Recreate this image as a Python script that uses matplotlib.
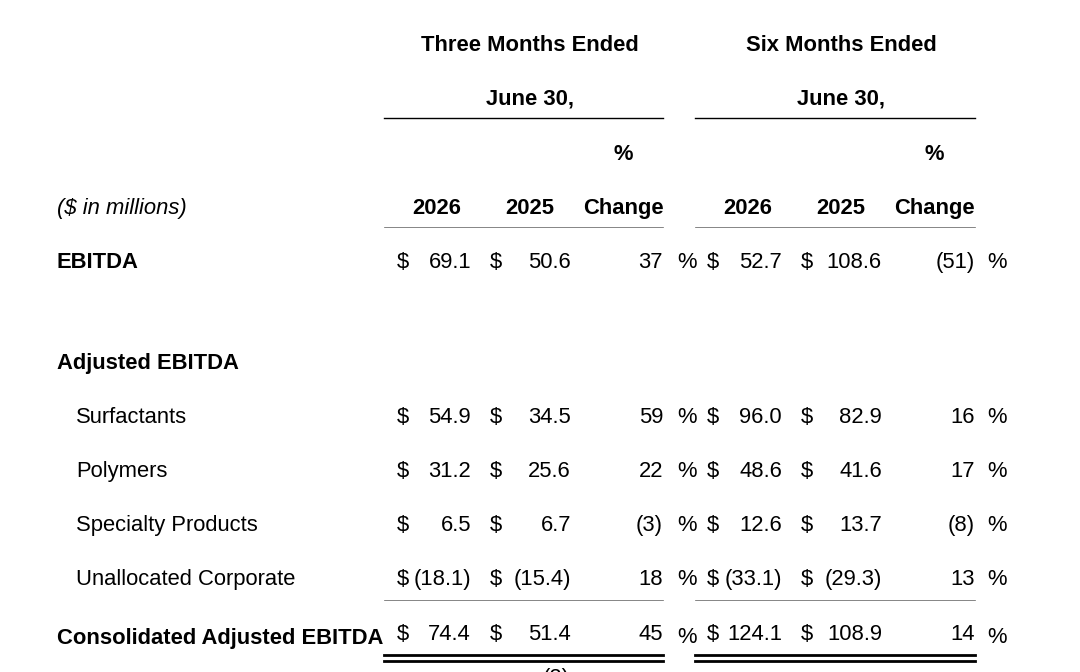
import matplotlib
matplotlib.use("Agg")
import matplotlib.pyplot as plt

plt.rcParams['font.family'] = ['Liberation Sans', 'DejaVu Sans']

# Values ($ in millions)
segments = ["Surfactants", "Polymers", "Specialty Products", "Unallocated Corporate"]
q_2026 = [54.9, 31.2, 6.5, -18.1]
q_2025 = [34.5, 25.6, 6.7, -15.4]
q_change = [59, 22, -3, 18]
h_2026 = [96.0, 48.6, 12.6, -33.1]
h_2025 = [82.9, 41.6, 13.7, -29.3]
h_change = [16, 17, -8, 13]

ebitda = [69.1, 50.6, 37, 52.7, 108.6, -51]
consolidated = [74.4, 51.4, 45, 124.1, 108.9, 14]

periods = ["Three Months Ended", "Six Months Ended"]
period_date = "June 30,"
years = ["2026", "2025"]

FS = 15.8


def money(v):
    return f"({abs(v):.1f})" if v < 0 else f"{v:.1f}"


def pct(v):
    return f"({abs(v)})" if v < 0 else f"{v}"


fig = plt.figure(figsize=(10.8, 6.72), dpi=100)
ax = fig.add_axes([0, 0, 1, 1])
ax.set_xlim(0, 1080)
ax.set_ylim(672, 0)
ax.axis("off")

# column layout (pixels)
dollar_x = [397, 490, 707, 801]
value_right = [471, 571, 782, 882]
change_right = [663, 975]
pct_x = [677, 987]
head_center = [[437, 530, 623], [748, 841, 934]]
group_center = [530, 841]
group_span = [(384, 663), (695, 975)]


def draw_row(y, vals, pct_dy=0):
    q = vals[:3]
    h = vals[3:]
    for g, (a, b, c) in enumerate([q, h]):
        ax.text(dollar_x[2 * g], y, "$", fontsize=FS, va="baseline", ha="left")
        ax.text(value_right[2 * g], y, money(a), fontsize=FS, va="baseline", ha="right")
        ax.text(dollar_x[2 * g + 1], y, "$", fontsize=FS, va="baseline", ha="left")
        ax.text(value_right[2 * g + 1], y, money(b), fontsize=FS, va="baseline", ha="right")
        ax.text(change_right[g], y, pct(c), fontsize=FS, va="baseline", ha="right")
        ax.text(pct_x[g], y + pct_dy, "%", fontsize=FS, va="baseline", ha="left")


# header block
for g in range(2):
    cx = group_center[g]
    ax.text(cx, 51, periods[g], fontsize=FS, fontweight="bold", ha="center", va="baseline")
    ax.text(cx, 104, period_date, fontsize=FS, fontweight="bold", ha="center", va="baseline")
    x0, x1 = group_span[g]
    ax.plot([x0, x1], [118, 118], color="black", lw=1.0)
    ax.text(head_center[g][2], 160, "%", fontsize=FS, fontweight="bold", ha="center", va="baseline")
    ax.text(head_center[g][0], 214, years[0], fontsize=FS, fontweight="bold", ha="center", va="baseline")
    ax.text(head_center[g][1], 214, years[1], fontsize=FS, fontweight="bold", ha="center", va="baseline")
    ax.text(head_center[g][2], 214, "Change", fontsize=FS, fontweight="bold", ha="center", va="baseline")
    ax.plot([x0, x1], [227, 227], color="#555555", lw=0.5)
    ax.plot([x0, x1], [600, 600], color="#555555", lw=0.5)
    ax.plot([x0, x1], [655, 655], color="black", lw=2.0)
    ax.plot([x0, x1], [661, 661], color="black", lw=2.0)

ax.text(57, 214, "($ in millions)", fontsize=FS, style="italic", va="baseline")

# EBITDA
ax.text(57, 268, "EBITDA", fontsize=FS, fontweight="bold", va="baseline")
draw_row(268, ebitda)

# Adjusted EBITDA by segment
ax.text(57, 369, "Adjusted EBITDA", fontsize=FS, fontweight="bold", va="baseline")
for i, name in enumerate(segments):
    y = 423 + 54 * i
    ax.text(76, y, name, fontsize=FS, va="baseline")
    draw_row(y, [q_2026[i], q_2025[i], q_change[i], h_2026[i], h_2025[i], h_change[i]])

ax.text(57, 644, "Consolidated Adjusted EBITDA", fontsize=FS, fontweight="bold", va="baseline")
draw_row(640, consolidated, pct_dy=3)

# footnote marker, cut by the bottom edge as in the source
ax.text(556, 684, "(2)", fontsize=FS, ha="center", va="baseline")

fig.savefig("out.png", dpi=100)
